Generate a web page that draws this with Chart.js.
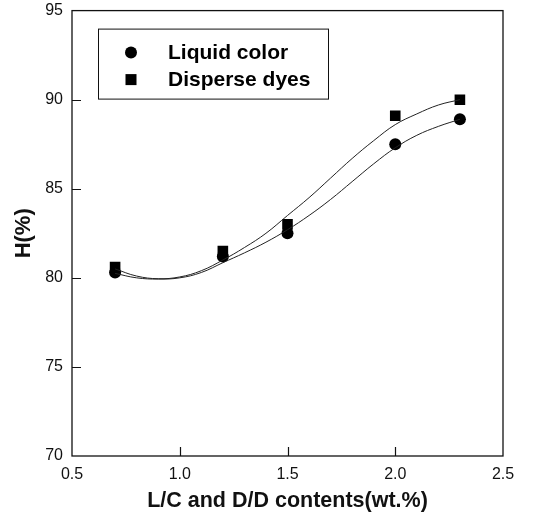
<!DOCTYPE html>
<html>
<head>
<meta charset="utf-8">
<script src="https://cdn.jsdelivr.net/npm/chart.js@4.4.1/dist/chart.umd.min.js"></script>
<style>
  html, body { margin: 0; padding: 0; background: #fff; }
  #wrap { width: 534px; height: 531px; }
</style>
</head>
<body>
<div id="wrap"><canvas id="data_viz" width="534" height="531"></canvas></div>
<script>
// measured points (wt.% vs H %)
var contents = [0.7, 1.2, 1.5, 2.0, 2.3]
var liquidColor = [80.3, 81.2, 82.5, 87.5, 88.9]
var disperseDyes = [80.6, 81.5, 83.0, 89.1, 90.0]

// fitted curves
var curveX = [0.7, 0.8, 0.9, 1.0, 1.1, 1.2, 1.3, 1.4, 1.5, 1.6, 1.7, 1.8, 1.9, 2.0, 2.1, 2.2, 2.3]
var liquidFit = [80.25, 80.0, 79.93, 80.0, 80.3, 80.85, 81.4, 82.0, 82.7, 83.5, 84.4, 85.4, 86.4, 87.3, 88.0, 88.5, 88.9]
var disperseFit = [80.5, 80.1, 79.95, 80.05, 80.4, 81.0, 81.7, 82.5, 83.5, 84.5, 85.6, 86.7, 87.7, 88.6, 89.2, 89.7, 90.0]

var xTicks = [0.5, 1.0, 1.5, 2.0, 2.5]
var yTicks = [70, 75, 80, 85, 90, 95]

function pts(xs, ys) {
  return xs.map(function(x, i) { return {x: x, y: ys[i]} })
}

var FONT = "'Liberation Sans', Arial, sans-serif"

// box around the plot, inward tick marks and the legend box
var frame = {
  id: 'frame',
  afterDraw: function(chart) {
    var ctx = chart.ctx
    var a = chart.chartArea
    var xs = chart.scales.x, ys = chart.scales.y
    ctx.save()
    ctx.strokeStyle = '#111'
    ctx.lineWidth = 1.3
    ctx.strokeRect(a.left, a.top, a.right - a.left, a.bottom - a.top)

    ctx.lineWidth = 1.2
    ctx.beginPath()
    xTicks.slice(1, -1).forEach(function(v) {
      var px = Math.round(xs.getPixelForValue(v)) + 0.5
      ctx.moveTo(px, a.bottom)
      ctx.lineTo(px, a.bottom - 9)
    })
    yTicks.slice(1, -1).forEach(function(v) {
      var py = Math.round(ys.getPixelForValue(v)) + 0.5
      ctx.moveTo(a.left, py)
      ctx.lineTo(a.left + 9, py)
    })
    ctx.stroke()

    // legend
    var lx = a.left + 26, ly = a.top + 18, lw = 230, lh = 70
    ctx.lineWidth = 1
    ctx.strokeRect(lx + 0.5, ly + 0.5, lw, lh)
    ctx.fillStyle = '#000'
    ctx.beginPath()
    ctx.arc(lx + 33, ly + 24, 6, 0, Math.PI * 2)
    ctx.fill()
    ctx.fillRect(lx + 27.5, ly + 45.5, 11, 11)
    ctx.font = 'bold 21px ' + FONT
    ctx.textBaseline = 'middle'
    ctx.fillText('Liquid color', lx + 70, ly + 25)
    ctx.fillText('Disperse dyes', lx + 70, ly + 52)
    ctx.restore()
  }
}

var ctx = document.getElementById('data_viz')
var chart = new Chart(ctx, {
  type: 'scatter',
  data: {
    datasets: [{
      label: 'Liquid color fit',
      data: pts(curveX, liquidFit),
      showLine: true,
      borderColor: '#222',
      borderWidth: 1,
      pointRadius: 0,
      tension: 0.4
    }, {
      label: 'Disperse dyes fit',
      data: pts(curveX, disperseFit),
      showLine: true,
      borderColor: '#222',
      borderWidth: 1,
      pointRadius: 0,
      tension: 0.4
    }, {
      label: 'Disperse dyes',
      data: pts(contents, disperseDyes),
      pointStyle: 'rect',
      pointRadius: 7.5,
      backgroundColor: '#000',
      borderColor: '#000',
      borderWidth: 0
    }, {
      label: 'Liquid color',
      data: pts(contents, liquidColor),
      pointStyle: 'circle',
      pointRadius: 6,
      backgroundColor: '#000',
      borderColor: '#000',
      borderWidth: 0
    }]
  },
  options: {
    responsive: false,
    animation: false,
    layout: { padding: { top: 7, right: 31, left: 0, bottom: 0 } },
    plugins: {
      legend: { display: false },
      tooltip: { enabled: false }
    },
    scales: {
      x: {
        type: 'linear',
        min: 0.5,
        max: 2.5,
        afterFit: function(s) { s.height = 75 },
        afterBuildTicks: function(s) { s.ticks = xTicks.map(function(v) { return {value: v} }) },
        grid: { display: false },
        border: { display: false },
        ticks: {
          padding: 1,
          color: '#111',
          font: { family: FONT, size: 16 },
          callback: function(v) { return Number(v).toFixed(1) }
        },
        title: {
          display: true,
          text: 'L/C and D/D contents(wt.%)',
          color: '#111',
          font: { family: FONT, size: 21.5, weight: 'bold' },
          padding: { top: 0, bottom: 17 }
        }
      },
      y: {
        min: 70,
        max: 95,
        afterFit: function(s) { s.width = 72 },
        afterBuildTicks: function(s) { s.ticks = yTicks.map(function(v) { return {value: v} }) },
        grid: { display: false },
        border: { display: false },
        ticks: {
          padding: 1,
          color: '#111',
          font: { family: FONT, size: 16 }
        },
        title: {
          display: true,
          text: 'H(%)',
          color: '#111',
          font: { family: FONT, size: 22, weight: 'bold' },
          padding: { top: 11, bottom: 0 }
        }
      }
    }
  },
  plugins: [frame]
})
</script>
</body>
</html>
